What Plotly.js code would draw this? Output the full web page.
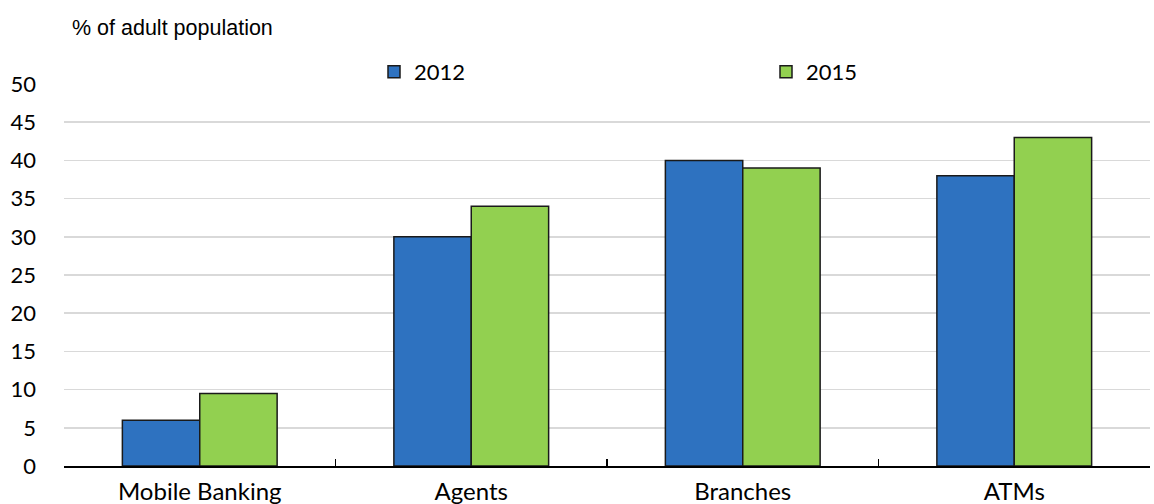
<!DOCTYPE html>
<html>
<head>
<meta charset="utf-8">
<script src="https://cdn.plot.ly/plotly-3.0.1.min.js"></script>
<style>html,body{margin:0;padding:0;background:#fff;}#chart{width:1154px;height:504px;}</style>
</head>
<body>
<div id="chart"></div>
<script>
const categories = ["Mobile Banking", "Agents", "Branches", "ATMs"];
const values2012 = [6, 30, 40, 38];
const values2015 = [9.5, 34, 39, 43];
const seriesNames = ["2012", "2015"];
const yTicks = [0, 5, 10, 15, 20, 25, 30, 35, 40, 45, 50];

const numFont = {family: "Lato, 'Noto Sans', sans-serif", size: 22, color: "#000"};
const catFont = {family: "Lato, 'Noto Sans', sans-serif", size: 24, color: "#000"};

const traces = [
  {type: "bar", name: seriesNames[0], x: categories, y: values2012, legend: "legend",
   marker: {color: "#2e72c0", line: {color: "#1a1a1a", width: 1.5}}},
  {type: "bar", name: seriesNames[1], x: categories, y: values2015, legend: "legend2",
   marker: {color: "#92d050", line: {color: "#1a1a1a", width: 1.5}}}
];

const legendBase = {orientation: "h", xanchor: "left", yanchor: "middle",
  xref: "container", yref: "container", y: 1 - 72/504,
  font: numFont, itemwidth: 30, bgcolor: "rgba(0,0,0,0)", borderwidth: 0};

const layout = {
  width: 1154, height: 504,
  margin: {l: 64, r: 4, t: 84, b: 38, autoexpand: false},
  paper_bgcolor: "#fff", plot_bgcolor: "#fff",
  barmode: "group", bargap: 0.43, bargroupgap: 0,
  showlegend: true,
  legend: Object.assign({}, legendBase, {x: 374/1154}),
  legend2: Object.assign({}, legendBase, {x: 766/1154}),
  title: {text: "% of adult population", xref: "container", yref: "container",
          x: 72/1154, xanchor: "left", y: 1 - 27/504, yanchor: "middle",
          font: {family: "'Liberation Sans Narrow', 'Arial Narrow', 'Liberation Sans', sans-serif", size: 21.5, color: "#000"}},
  xaxis: {type: "category", showgrid: false, showline: true, linecolor: "#000", linewidth: 1.5,
          ticks: "inside", ticklen: 7, tickwidth: 1.3, tickcolor: "#000", tickson: "boundaries",
          tickfont: catFont, tickangle: 0, zeroline: false, automargin: false, ticklabelstandoff: 4},
  yaxis: {range: [0, 50], tickvals: yTicks, showgrid: true, gridcolor: "#d9d9d9", gridwidth: 1.5,
          showline: false, zeroline: false, ticks: "", ticklabelstandoff: 27, tickfont: numFont,
          automargin: false},
  font: numFont
};

Plotly.newPlot("chart", traces, layout, {displayModeBar: false, staticPlot: true});
</script>
</body>
</html>
